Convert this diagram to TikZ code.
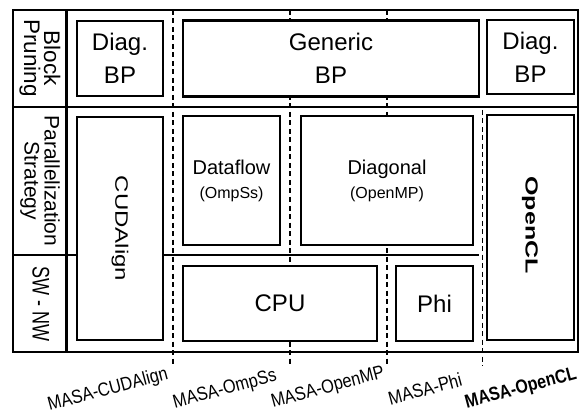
\documentclass[tikz,border=0pt]{standalone}
\usepackage{fontspec}
\setmainfont{Liberation Sans}
\newcommand{\fsz}[2]{\fontsize{#1}{#2}\selectfont}
\begin{document}
\begin{tikzpicture}[x=1pt,y=-1pt,
  box/.style={draw, line width=2.6pt, fill=white, inner sep=0pt, align=center},
  dashline/.style={line width=1.6pt, dash pattern=on 5pt off 3.5pt},
  frame/.style={line width=2.8pt},
  sep/.style={line width=2pt},
  lbl/.style={rotate=15, inner sep=0pt, font=\fsz{19}{20}},
  vtxt/.style={rotate=-90, inner sep=0pt, align=center}
]
\useasboundingbox (0,0) rectangle (582,412);

% dashed column separators
\coordinate (d1t) at (173,10);  \coordinate (d1b) at (173,364);
\coordinate (d2t) at (290,10);  \coordinate (d2b) at (290,364);
\coordinate (d3t) at (387,10);  \coordinate (d3b) at (387,364);
\coordinate (d4t) at (482.5,110); \coordinate (d4b) at (482.5,366);
\draw[dashline] (d1t) -- (d1b);
\draw[dashline] (d2t) -- (d2b);
\draw[dashline] (d3t) -- (d3b);
\draw[dashline] (d4t) -- (d4b);

% horizontal separator between strategy and SW-NW
\coordinate (h2l) at (13,255); \coordinate (h2r) at (479,255);
\draw[sep] (h2l) -- (h2r);

% frame
\coordinate (fTL) at (13,10); \coordinate (fBR) at (578,352);
\draw[frame] (fTL) rectangle (fBR);
\coordinate (vsT) at (66.7,10); \coordinate (vsB) at (66.7,352);
\draw[frame] (vsT) -- (vsB);
\coordinate (h1l) at (13,107); \coordinate (h1r) at (578,107);
\draw[frame] (h1l) -- (h1r);

% left column labels
\node[vtxt, font=\fsz{22.5}{20}] (bp) at (40,58) {Block\\Pruning};
\node[vtxt, font=\fsz{21}{20}] (ps) at (40,181) {Parallelization\\Strategy};
\node[vtxt, font=\fsz{24}{26}] (sw) at (41,304) {\scalebox{0.75}[1]{SW - NW}};

% block pruning row
\node[box, minimum width=86pt, minimum height=75pt, font=\fsz{24}{33}] (diagL) at (120,58.5) {Diag.\\BP};
\node[box, minimum width=296pt, minimum height=76pt, font=\fsz{24}{33}] (generic) at (331,58.5) {Generic\\BP};
\node[box, minimum width=87pt, minimum height=74pt, font=\fsz{24}{33}] (diagR) at (530.5,57) {Diag.\\BP};

% strategy boxes
\node[box, minimum width=86pt, minimum height=223pt] (cuda) at (120,228.5) {};
\node[vtxt, font=\fsz{24}{26}] (cudatxt) at (cuda) {\scalebox{1}[0.75]{CUDAlign}};
\node[box, minimum width=97pt, minimum height=129pt, font=\fsz{20}{24}] (dataflow) at (231.5,180.5) {Dataflow\\{\fsz{16}{24}(OmpSs)}};
\node[box, minimum width=172pt, minimum height=129pt, font=\fsz{20}{24}] (diagonal) at (387,180.5) {Diagonal\\{\fsz{16}{24}(OpenMP)}};
\node[box, minimum width=194pt, minimum height=75pt, font=\fsz{24}{26}] (cpu) at (280,303.5) {CPU};
\node[box, minimum width=77pt, minimum height=75pt, font=\fsz{24}{26}] (phi) at (434.5,303.5) {Phi};
\node[box, minimum width=87pt, minimum height=225pt] (opencl) at (530.5,227.5) {};
\node[vtxt, font=\fsz{25}{26}\bfseries] (opencltxt) at (530,225) {\scalebox{1}[0.7]{OpenCL}};

% bottom labels
\node[lbl] (l1) at (108,390) {\scalebox{0.86}[1]{MASA-CUDAlign}};
\node[lbl] (l2) at (225,390) {\scalebox{0.86}[1]{MASA-OmpSs}};
\node[lbl] (l3) at (328,388) {\scalebox{0.86}[1]{MASA-OpenMP}};
\node[lbl] (l4) at (425,389) {\scalebox{0.86}[1]{MASA-Phi}};
\node[lbl, font=\fsz{19}{20}\bfseries] (l5) at (521,389) {\scalebox{0.84}[1]{MASA-OpenCL}};
\end{tikzpicture}
\end{document}
